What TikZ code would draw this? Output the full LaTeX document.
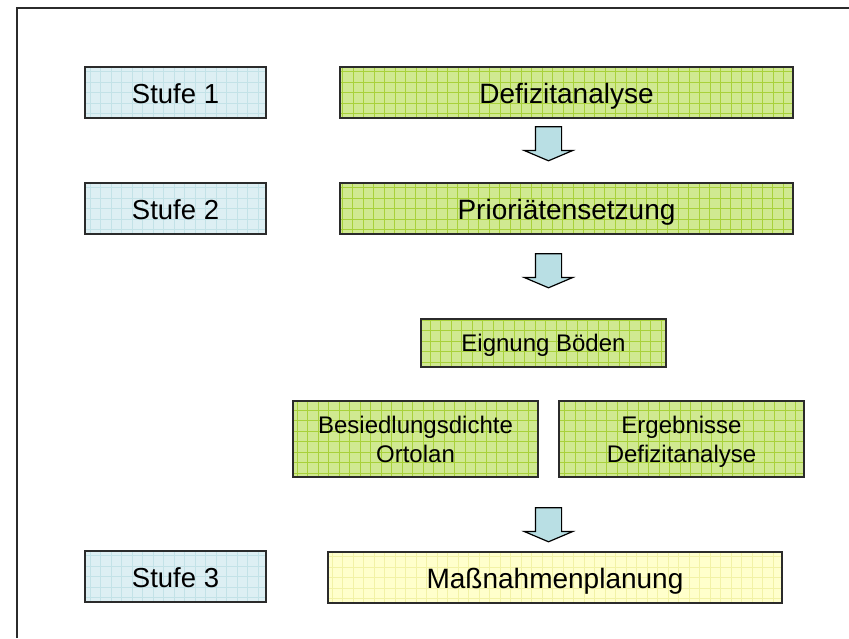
\documentclass[tikz,border=0pt]{standalone}
\usepackage{fontspec}
\setmainfont{Liberation Sans}
\usepackage{tikz}
\usetikzlibrary{positioning, shapes.arrows}

\definecolor{blaugrund}{HTML}{DDEFF3}
\definecolor{blaugitter}{HTML}{C3E2E7}
\definecolor{gruengrund}{HTML}{D0E991}
\definecolor{gruengitter}{HTML}{A8D13A}
\definecolor{gelbgrund}{HTML}{FFFFCC}
\definecolor{gelbgitter}{HTML}{F2F2A6}
\definecolor{pfeilgrund}{HTML}{B9DFE4}
\definecolor{rand}{HTML}{2B2B2B}

\begin{document}
\begin{tikzpicture}[x=1pt, y=-1pt, node distance=116pt, on grid,
	kasten/.style={draw=rand, line width=1.6pt, inner sep=0pt, align=center, text=black, text height=26pt, text depth=5pt},
	gitter/.style={path picture={\draw[#1, line width=0.8pt, step=10.5pt] (path picture bounding box.south west) grid (path picture bounding box.north east);}},
	stufe/.style={kasten, fill=blaugrund, gitter=blaugitter, minimum width=181pt, minimum height=51pt, font=\fontsize{27.5}{33}\selectfont},
	gruen/.style={kasten, fill=gruengrund, gitter=gruengitter, font=\fontsize{28}{33}\selectfont},
	klein/.style={gruen, minimum width=245pt, text height=22pt, text depth=4.5pt, font=\fontsize{24}{29.5}\selectfont},
	zweizeilig/.style={klein, minimum height=76pt, text height=52pt},
	gelb/.style={kasten, fill=gelbgrund, gitter=gelbgitter, font=\fontsize{28}{33}\selectfont},
	pfeil/.style={single arrow, draw=black, line width=1.2pt, fill=pfeilgrund, shape border rotate=270, inner sep=12.5pt, single arrow head extend=11pt, single arrow tip angle=134, minimum height=34pt}
	]
	\useasboundingbox (0,0) rectangle (849,638);

	%Rahmen
	\coordinate (rahmenOR) at (849,7.5);
	\coordinate (rahmenOL) at (16.5,7.5);
	\coordinate (rahmenUL) at (16.5,638);
	\draw[rand, line width=2pt] (rahmenOR) -- (rahmenOL) -- (rahmenUL);

	%Stufen
	\node[stufe]								(stufeA) at (175.5,92.5)	{Stufe 1};
	\node[stufe]								(stufeB) [below=of stufeA]	{Stufe 2};
	\node[stufe]								(stufeC) at (175.5,576.5)	{Stufe 3};

	%Schritte
	\node[gruen, minimum width=453pt, minimum height=51pt]	(defizit) at (566.5,92.5)	{Defizitanalyse};
	\node[gruen, minimum width=453pt, minimum height=51pt]	(prio) [below=of defizit]	{Prioriätensetzung};
	\node[klein, minimum height=48pt]			(eignung) at (543.5,343)	{Eignung Böden};
	\node[zweizeilig]							(besiedlung) at (415.5,439)	{Besiedlungsdichte\\Ortolan};
	\node[zweizeilig]							(ergebnis) [right=266pt of besiedlung]	{Ergebnisse\\Defizitanalyse};
	\node[gelb, minimum width=454pt, minimum height=51pt]	(massnahmen) at (555,577.5)	{Maßnahmenplanung};

	%Pfeile
	\node[pfeil]								(pfeilA) at (548.5,141)	{};
	\node[pfeil]								(pfeilB) at (548.5,268)	{};
	\node[pfeil]								(pfeilC) at (548.5,522)	{};
\end{tikzpicture}
\end{document}
